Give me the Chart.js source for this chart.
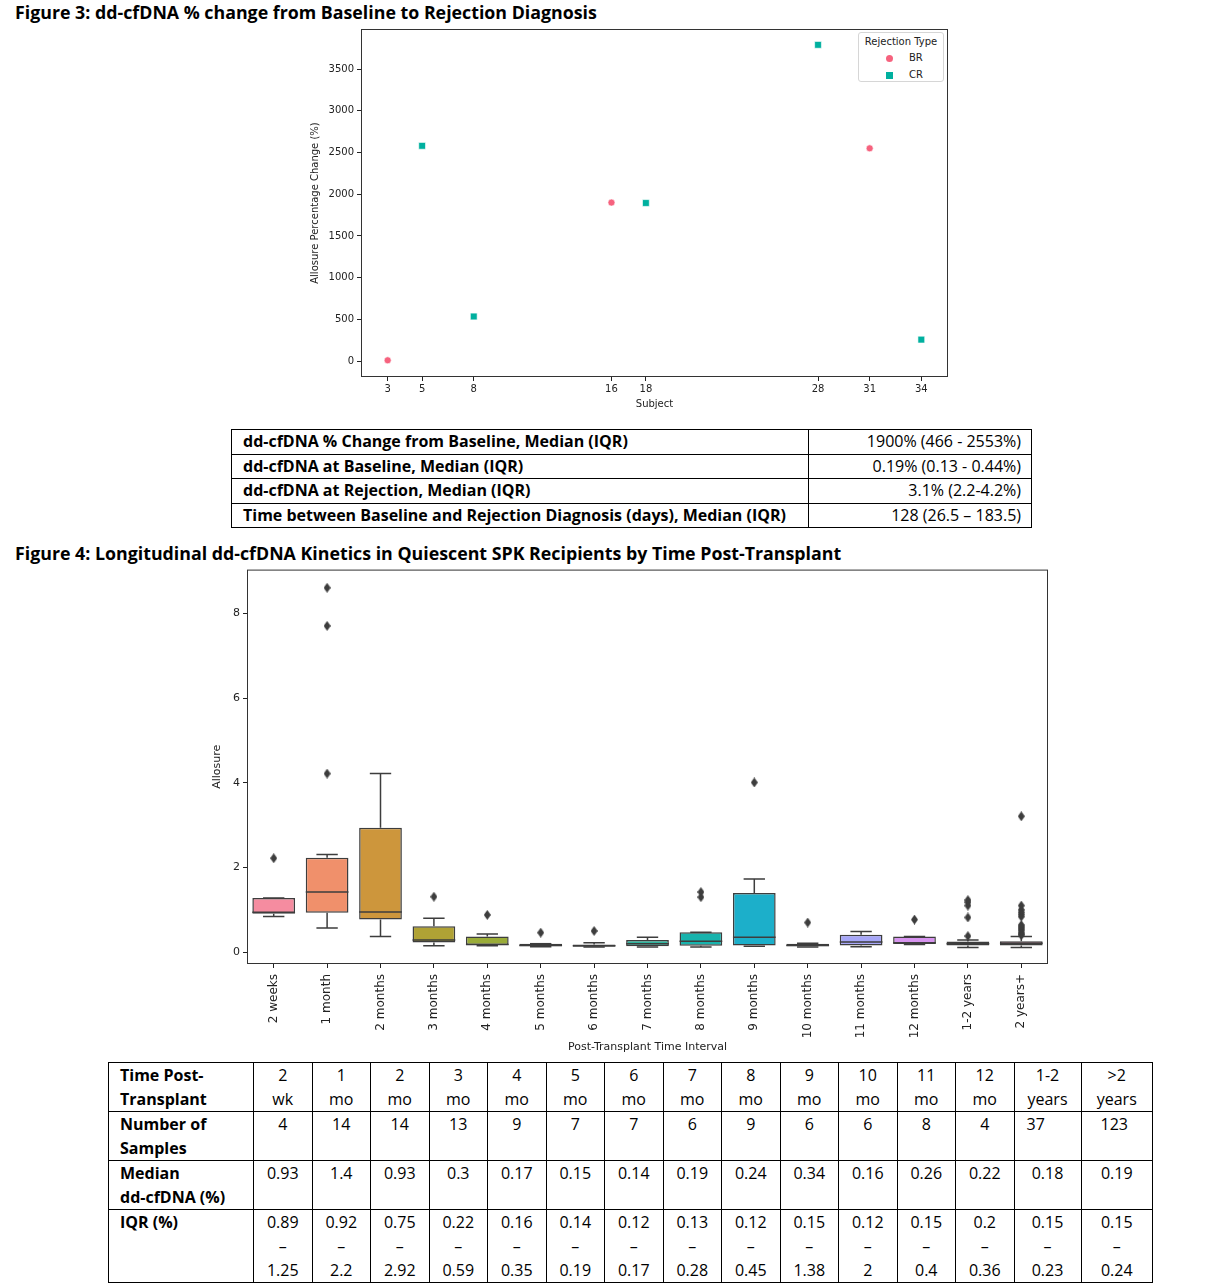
<!DOCTYPE html>
<html>
<head>
<meta charset="utf-8">
<script src="https://cdn.jsdelivr.net/npm/chart.js@4.4.0/dist/chart.umd.min.js"></script>
<style>
  body { margin: 0; background: #fff; font-family: 'Open Sans', Lato, sans-serif; }
  #page { position: relative; width: 1213px; height: 1286px; }
  .fig-title { position: absolute; left: 15px; font-weight: bold; font-size: 17.8px; line-height: 22px; color: #000; white-space: nowrap; }
  canvas { position: absolute; }
  table { position: absolute; border-collapse: collapse; table-layout: fixed; font-size: 16px; color: #000; }
  td { border: 1px solid #000; padding: 0; line-height: 24px; vertical-align: top; white-space: nowrap; overflow: hidden; }
  #tab1 td { height: 23.5px; line-height: 23px; }
  #tab1 td.l { font-weight: bold; padding-left: 11px; }
  #tab1 td.r { text-align: right; padding-right: 10px; }
  #tab2 td { text-align: center; }
  #tab2 td.h { text-align: left; font-weight: bold; padding-left: 11px; }
  #legend3 { position: absolute; left: 858px; top: 32px; width: 84px; height: 48px; border: 1px solid #d6d6d6; border-radius: 3px; font-family: 'DejaVu Sans', sans-serif; font-size: 10px; color: #222; background: #fff; }
</style>
</head>
<body>
<div id="page">
  <div class="fig-title" style="top:1px">Figure 3: dd-cfDNA % change from Baseline to Rejection Diagnosis</div>
  <canvas id="scatterChart" width="660" height="400" style="left:300px;top:20px;width:660px;height:400px"></canvas>
  <div id="legend3"></div>

  <table id="tab1" style="left:231px;top:429px;width:800px">
    <colgroup><col style="width:577px"><col style="width:223px"></colgroup>
    <tr><td class="l">dd-cfDNA % Change from Baseline, Median (IQR)</td><td class="r">1900% (466 - 2553%)</td></tr>
    <tr><td class="l">dd-cfDNA at Baseline, Median (IQR)</td><td class="r">0.19% (0.13 - 0.44%)</td></tr>
    <tr><td class="l">dd-cfDNA at Rejection, Median (IQR)</td><td class="r">3.1% (2.2-4.2%)</td></tr>
    <tr><td class="l">Time between Baseline and Rejection Diagnosis (days), Median (IQR)</td><td class="r">128 (26.5 – 183.5)</td></tr>
  </table>

  <div class="fig-title" style="top:542px">Figure 4: Longitudinal dd-cfDNA Kinetics in Quiescent SPK Recipients by Time Post-Transplant</div>
  <canvas id="boxChart" width="860" height="500" style="left:200px;top:560px;width:860px;height:500px"></canvas>

  <table id="tab2" style="left:108px;top:1062px;width:1044px">
    <colgroup><col style="width:145px"><col style="width:58.5px"><col style="width:58.5px"><col style="width:58.5px"><col style="width:58.5px"><col style="width:58.5px"><col style="width:58.5px"><col style="width:58.5px"><col style="width:58.5px"><col style="width:58.5px"><col style="width:58.5px"><col style="width:58.5px"><col style="width:58.5px"><col style="width:58.5px"><col style="width:67px"><col style="width:71.5px"></colgroup>
    <tr style="height:48px"><td class="h">Time Post-<br>Transplant</td>
      <td>2<br>wk</td><td>1<br>mo</td><td>2<br>mo</td><td>3<br>mo</td><td>4<br>mo</td><td>5<br>mo</td><td>6<br>mo</td><td>7<br>mo</td><td>8<br>mo</td><td>9<br>mo</td><td>10<br>mo</td><td>11<br>mo</td><td>12<br>mo</td><td>1-2<br>years</td><td>&gt;2<br>years</td></tr>
    <tr style="height:48px"><td class="h">Number of<br>Samples</td>
      <td>4</td><td>14</td><td>14</td><td>13</td><td>9</td><td>7</td><td>7</td><td>6</td><td>9</td><td>6</td><td>6</td><td>8</td><td>4</td><td style="text-align:left;padding-left:12px">37</td><td style="text-align:left;padding-left:19px">123</td></tr>
    <tr style="height:48px"><td class="h">Median<br>dd-cfDNA (%)</td>
      <td>0.93</td><td>1.4</td><td>0.93</td><td>0.3</td><td>0.17</td><td>0.15</td><td>0.14</td><td>0.19</td><td>0.24</td><td>0.34</td><td>0.16</td><td>0.26</td><td>0.22</td><td>0.18</td><td>0.19</td></tr>
    <tr style="height:72px"><td class="h">IQR (%)</td>
      <td>0.89<br>–<br>1.25</td><td>0.92<br>–<br>2.2</td><td>0.75<br>–<br>2.92</td><td>0.22<br>–<br>0.59</td><td>0.16<br>–<br>0.35</td><td>0.14<br>–<br>0.19</td><td>0.12<br>–<br>0.17</td><td>0.13<br>–<br>0.28</td><td>0.12<br>–<br>0.45</td><td>0.15<br>–<br>1.38</td><td>0.12<br>–<br>2</td><td>0.15<br>–<br>0.4</td><td>0.2<br>–<br>0.36</td><td>0.15<br>–<br>0.23</td><td>0.15<br>–<br>0.24</td></tr>
  </table>
</div>

<script>
// Figure 3 data
const subjectTicks = [3, 5, 8, 16, 18, 28, 31, 34];
const changeTicks = [0, 500, 1000, 1500, 2000, 2500, 3000, 3500];
const brSubjects = [3, 16, 31];
const brChange = [10, 1900, 2550];
const crSubjects = [5, 8, 18, 28, 34];
const crChange = [2580, 535, 1895, 3790, 258];
const brColor = '#f6627e';
const crColor = '#00b09f';

// Figure 4 data
const intervals = ['2 weeks', '1 month', '2 months', '3 months', '4 months', '5 months', '6 months',
  '7 months', '8 months', '9 months', '10 months', '11 months', '12 months', '1-2 years', '2 years+'];
const q1 = [0.91, 0.93, 0.77, 0.23, 0.17, 0.14, 0.13, 0.14, 0.15, 0.16, 0.14, 0.16, 0.19, 0.16, 0.16];
const medians = [0.94, 1.42, 0.95, 0.29, 0.18, 0.16, 0.15, 0.2, 0.26, 0.35, 0.16, 0.24, 0.22, 0.2, 0.21];
const q3 = [1.28, 2.23, 2.94, 0.61, 0.37, 0.2, 0.18, 0.29, 0.47, 1.4, 0.2, 0.41, 0.37, 0.25, 0.26];
const whiskerLow = [0.84, 0.57, 0.37, 0.15, 0.15, 0.13, 0.12, 0.12, 0.12, 0.14, 0.12, 0.13, 0.18, 0.11, 0.11];
const whiskerHigh = [1.28, 2.31, 4.22, 0.8, 0.43, 0.2, 0.22, 0.35, 0.47, 1.73, 0.21, 0.49, 0.37, 0.29, 0.37];
const outliers = [[2.22], [4.22, 7.71, 8.61], [], [1.31], [0.88], [0.46], [0.5], [], [1.3, 1.42], [4.01], [0.7], [],
  [0.77], [0.38, 0.82, 1.1, 1.18, 1.23], [0.4, 0.43, 0.47, 0.52, 0.56, 0.6, 0.64, 0.84, 0.89, 0.94, 1.0, 1.1, 3.21]];
const allosureTicks = [0, 2, 4, 6, 8];
const boxColors = ['#f58ca0', '#f0906b', '#cd963c', '#b0a235', '#9aac38', '#6db43c', '#3fb57c', '#2db39c',
  '#18b3ad', '#1cafca', '#3ca6e4', '#a7a7f8', '#d794ef', '#dc76c4', '#e6779f'];

Chart.defaults.font.family = "'DejaVu Sans', sans-serif";
Chart.defaults.color = '#222';

// box frame around the plotting area (matplotlib spines)
const framePlugin = {
  id: 'frame',
  beforeDatasetsDraw(chart) {
    const a = chart.chartArea, c = chart.ctx;
    c.save();
    c.strokeStyle = '#333';
    c.lineWidth = 1;
    c.strokeRect(a.left + 0.5, a.top + 0.5, a.right - a.left - 1, a.bottom - a.top - 1);
    c.restore();
  }
};

// ---- Figure 3: scatter ----
new Chart(document.getElementById('scatterChart'), {
  type: 'scatter',
  data: {
    datasets: [
      { label: 'BR', data: brSubjects.map((s, i) => ({ x: s, y: brChange[i] })),
        pointStyle: 'circle', pointRadius: 3.5, backgroundColor: brColor, borderColor: '#fff', borderWidth: 0.6 },
      { label: 'CR', data: crSubjects.map((s, i) => ({ x: s, y: crChange[i] })),
        pointStyle: 'rect', pointRadius: 4.8, backgroundColor: crColor, borderColor: '#fff', borderWidth: 0.6 }
    ]
  },
  options: {
    responsive: false,
    animation: false,
    layout: { padding: { top: 6, right: 12, left: 0, bottom: 0 } },
    plugins: { legend: { display: false }, tooltip: { enabled: false } },
    scales: {
      x: {
        type: 'linear', min: 1.45, max: 35.55,
        afterBuildTicks: s => { s.ticks = subjectTicks.map(v => ({ value: v })); },
        afterFit: s => { s.height = 43; },
        grid: { drawOnChartArea: false, tickLength: 4, color: '#222' },
        border: { display: false },
        ticks: { font: { size: 10 }, padding: 2, maxRotation: 0, autoSkip: false, callback: v => String(v) },
        title: { display: true, text: 'Subject', font: { size: 10 }, padding: { top: 0, bottom: 10 } }
      },
      y: {
        min: -190, max: 3980,
        afterBuildTicks: s => { s.ticks = changeTicks.map(v => ({ value: v })); },
        afterFit: s => { s.width = 61; },
        grid: { drawOnChartArea: false, tickLength: 4, color: '#222' },
        border: { display: false },
        ticks: { font: { size: 10 }, padding: 3, callback: v => String(v) },
        title: { display: true, text: 'Allosure Percentage Change (%)', font: { size: 10 }, padding: { top: 9, bottom: 0 } }
      }
    }
  },
  plugins: [framePlugin]
});

// legend inside the axes
const legend3 = document.getElementById('legend3');
legend3.innerHTML = '<div style="text-align:center;margin-top:3px;height:13px">Rejection Type</div>';
[['BR', brColor, '50%', 7], ['CR', crColor, '0', 7]].forEach(([name, col, rad, sz]) => {
  const row = document.createElement('div');
  row.style.cssText = 'position:relative;height:15px;margin-top:2px';
  row.innerHTML = `<span style="position:absolute;left:${30 - sz / 2}px;top:${7 - sz / 2}px;width:${sz}px;height:${sz}px;background:${col};border-radius:${rad}"></span>` +
    `<span style="position:absolute;left:50px;top:1px">${name}</span>`;
  legend3.appendChild(row);
});

// ---- Figure 4: box plot ----
const diamond = document.createElement('canvas');
diamond.width = 7; diamond.height = 10;
const dctx = diamond.getContext('2d');
dctx.fillStyle = '#3d3d3d';
dctx.beginPath();
dctx.moveTo(3.5, 0); dctx.lineTo(7, 5); dctx.lineTo(3.5, 10); dctx.lineTo(0, 5);
dctx.closePath(); dctx.fill();

const outlierPoints = [];
outliers.forEach((list, i) => list.forEach(v => outlierPoints.push({ x: intervals[i], y: v })));

// whiskers behind the boxes, medians on top
const boxPlugin = {
  id: 'boxParts',
  beforeDatasetsDraw(chart) {
    const meta = chart.getDatasetMeta(0), y = chart.scales.y, c = chart.ctx;
    c.save();
    c.strokeStyle = '#3d3d3d';
    c.lineWidth = 1.5;
    meta.data.forEach((bar, i) => {
      const capHalf = bar.width / 4;
      [[q1[i], whiskerLow[i]], [q3[i], whiskerHigh[i]]].forEach(([from, to]) => {
        const y0 = y.getPixelForValue(from), y1 = y.getPixelForValue(to);
        c.beginPath();
        c.moveTo(bar.x, y0); c.lineTo(bar.x, y1);
        c.moveTo(bar.x - capHalf, y1); c.lineTo(bar.x + capHalf, y1);
        c.stroke();
      });
    });
    c.restore();
  },
  afterDatasetsDraw(chart) {
    const meta = chart.getDatasetMeta(0), y = chart.scales.y, c = chart.ctx;
    c.save();
    c.strokeStyle = '#3d3d3d';
    c.lineWidth = 1.5;
    meta.data.forEach((bar, i) => {
      const ym = y.getPixelForValue(medians[i]);
      c.beginPath();
      c.moveTo(bar.x - bar.width / 2, ym); c.lineTo(bar.x + bar.width / 2, ym);
      c.stroke();
    });
    c.restore();
  }
};

new Chart(document.getElementById('boxChart'), {
  type: 'bar',
  data: {
    labels: intervals,
    datasets: [
      { data: intervals.map((_, i) => [q1[i], q3[i]]), backgroundColor: boxColors,
        borderColor: '#3d3d3d', borderWidth: 1.5, borderSkipped: false,
        barPercentage: 0.8, categoryPercentage: 1 },
      { type: 'line', data: outlierPoints, showLine: false, pointStyle: diamond,
        pointRadius: 4, borderColor: '#3d3d3d', backgroundColor: '#3d3d3d' }
    ]
  },
  options: {
    responsive: false,
    animation: false,
    layout: { padding: { top: 7, right: 12, left: 0, bottom: 0 } },
    plugins: { legend: { display: false }, tooltip: { enabled: false } },
    scales: {
      x: {
        afterFit: s => { s.height = 96; },
        grid: { drawOnChartArea: false, tickLength: 4, color: '#222', offset: false },
        border: { display: false },
        ticks: { font: { size: 12 }, padding: 6, minRotation: 90, maxRotation: 90, autoSkip: false },
        title: { display: true, text: 'Post-Transplant Time Interval', font: { size: 11 }, padding: { top: 0, bottom: 6 } }
      },
      y: {
        min: -0.28, max: 9.04,
        afterBuildTicks: s => { s.ticks = allosureTicks.map(v => ({ value: v })); },
        afterFit: s => { s.width = 47; },
        grid: { drawOnChartArea: false, tickLength: 4, color: '#222' },
        border: { display: false },
        ticks: { font: { size: 11 }, padding: 3 },
        title: { display: true, text: 'Allosure', font: { size: 11 }, padding: { top: 11, bottom: 0 } }
      }
    }
  },
  plugins: [framePlugin, boxPlugin]
});
</script>
</body>
</html>
